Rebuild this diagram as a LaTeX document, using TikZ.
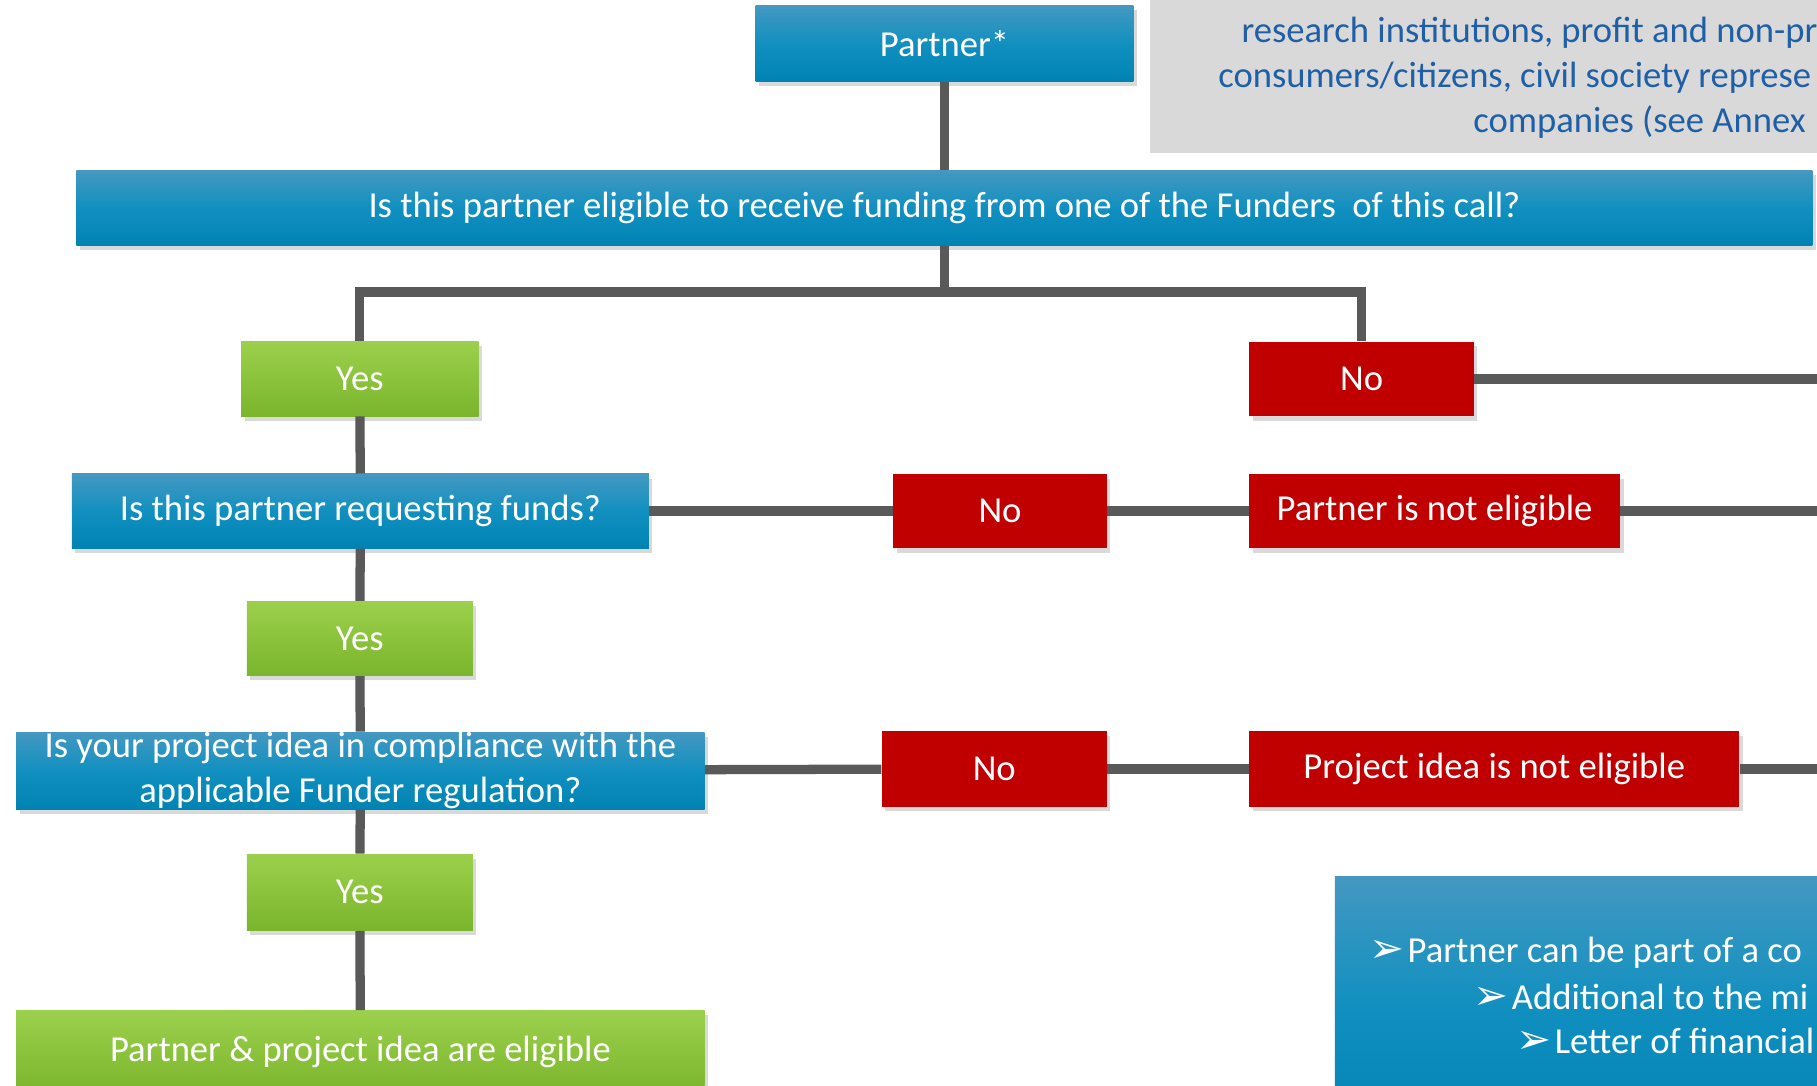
\documentclass[tikz,border=0pt]{standalone}
\usepackage{fontspec}
\setmainfont{Carlito}
\newfontfamily\symfont{DejaVu Sans}
\usetikzlibrary{shadows}
\definecolor{boxtop}{HTML}{4498C1}
\definecolor{boxmid}{HTML}{1190C0}
\definecolor{boxbot}{HTML}{0083B3}
\definecolor{yestop}{HTML}{9CD04C}
\definecolor{yesbot}{HTML}{7AB52C}
\definecolor{nored}{HTML}{C00000}
\definecolor{linkgray}{HTML}{595959}
\definecolor{notegray}{HTML}{D9D9D9}
\definecolor{noteblue}{HTML}{1F5FA6}
\begin{document}
\begin{tikzpicture}[x=0.5pt, y=-0.5pt,
    every node/.style = {font=\fontsize{15.8}{19.5}\selectfont, text=white, inner sep=0pt},
    box/.style = {rectangle, align=center, drop shadow={shadow xshift=1.5pt, shadow yshift=-2pt, opacity=0.3}},
    bluebox/.style = {box, top color=boxtop, bottom color=boxbot, middle color=boxmid},
    yesbox/.style = {box, top color=yestop, bottom color=yesbot},
    nobox/.style = {box, fill=nored},
    link/.style = {draw=linkgray, line width=4pt}]
  \useasboundingbox (0,0) rectangle (1568,937);
  \clip (0,0) rectangle (1568,937);
  % side panels
  \fill[notegray] (992,-10) rectangle (1700,132);
  \node[text=noteblue, anchor=west] (note1) at (1071,28) {research institutions, profit and non-pr};
  \node[text=noteblue, anchor=west] (note2) at (1051,67) {consumers/citizens, civil society represe};
  \node[text=noteblue, anchor=west] (note3) at (1271,105) {companies (see Annex};
  \shade[top color=boxtop, bottom color=boxbot, middle color=boxmid, drop shadow={shadow xshift=1.5pt, shadow yshift=-2pt, opacity=0.3}] (1152,756) rectangle (1700,980);
  \node[anchor=west] (info1) at (1181,822) {{\symfont\fontsize{18}{20}\selectfont ➢}\hspace{-2pt} Partner can be part of a co};
  \node[anchor=west] (info2) at (1271,860) {{\symfont\fontsize{18}{20}\selectfont ➢}\hspace{-2pt} Additional to the mi};
  \node[anchor=west] (info3) at (1308,898) {{\symfont\fontsize{18}{20}\selectfont ➢}\hspace{-2pt} Letter of financial};
  % boxes
  \node[bluebox, minimum width=163pt, minimum height=32.5pt] (partner) at (815,37.5) {Partner*};
  \node[bluebox, minimum width=749pt, minimum height=32.5pt] (elig) at (815,179.5) {Is this partner eligible to receive funding from one of the Funders \ of this call?};
  \node[yesbox, minimum width=102.5pt, minimum height=32pt] (yes1) at (310.5,327) {Yes};
  \node[nobox, minimum width=97pt, minimum height=32pt] (no1) at (1175,327) {No};
  \node[bluebox, minimum width=249pt, minimum height=32pt] (funds) at (311,441) {Is this partner requesting funds?};
  \node[nobox, minimum width=92pt, minimum height=32pt] (no2) at (863,441) {No};
  \node[nobox, minimum width=160pt, minimum height=32pt] (notpartner) at (1238,441) {Partner is not eligible};
  \node[yesbox, minimum width=97.5pt, minimum height=32pt] (yes2) at (310.5,551) {Yes};
  \node[bluebox, minimum width=297pt, minimum height=32.5pt] (comply) at (311,665) {Is your project idea in compliance with the\\applicable Funder regulation?};
  \node[nobox, minimum width=97pt, minimum height=32.5pt] (no3) at (858,663.5) {No};
  \node[nobox, minimum width=211.5pt, minimum height=32.5pt] (notidea) at (1289.5,663.5) {Project idea is not eligible};
  \node[yesbox, minimum width=97.5pt, minimum height=33pt] (yes3) at (310.5,770) {Yes};
  \node[yesbox, minimum width=297pt, minimum height=36pt] (ok) at (311,908) {Partner \& project idea are eligible};
  % free ends
  \coordinate (fork) at (815,252);
  \coordinate (end1) at (1580,327);
  \coordinate (end2) at (1580,441);
  \coordinate (end3) at (1580,663.5);
  % connectors
  \draw[link] (partner) -- (elig);
  \draw[link] (elig) -- (fork);
  \draw[link] (yes1.north) |- (fork) -| (no1.north);
  \draw[link] (no1) -- (end1);
  \draw[link] (yes1) -- (funds);
  \draw[link] (funds) -- (no2);
  \draw[link] (no2) -- (notpartner);
  \draw[link] (notpartner) -- (end2);
  \draw[link] (funds) -- (yes2);
  \draw[link] (yes2) -- (comply);
  \draw[link] (comply) -- (no3);
  \draw[link] (no3) -- (notidea);
  \draw[link] (notidea) -- (end3);
  \draw[link] (comply) -- (yes3);
  \draw[link] (yes3) -- (ok);
\end{tikzpicture}
\end{document}
